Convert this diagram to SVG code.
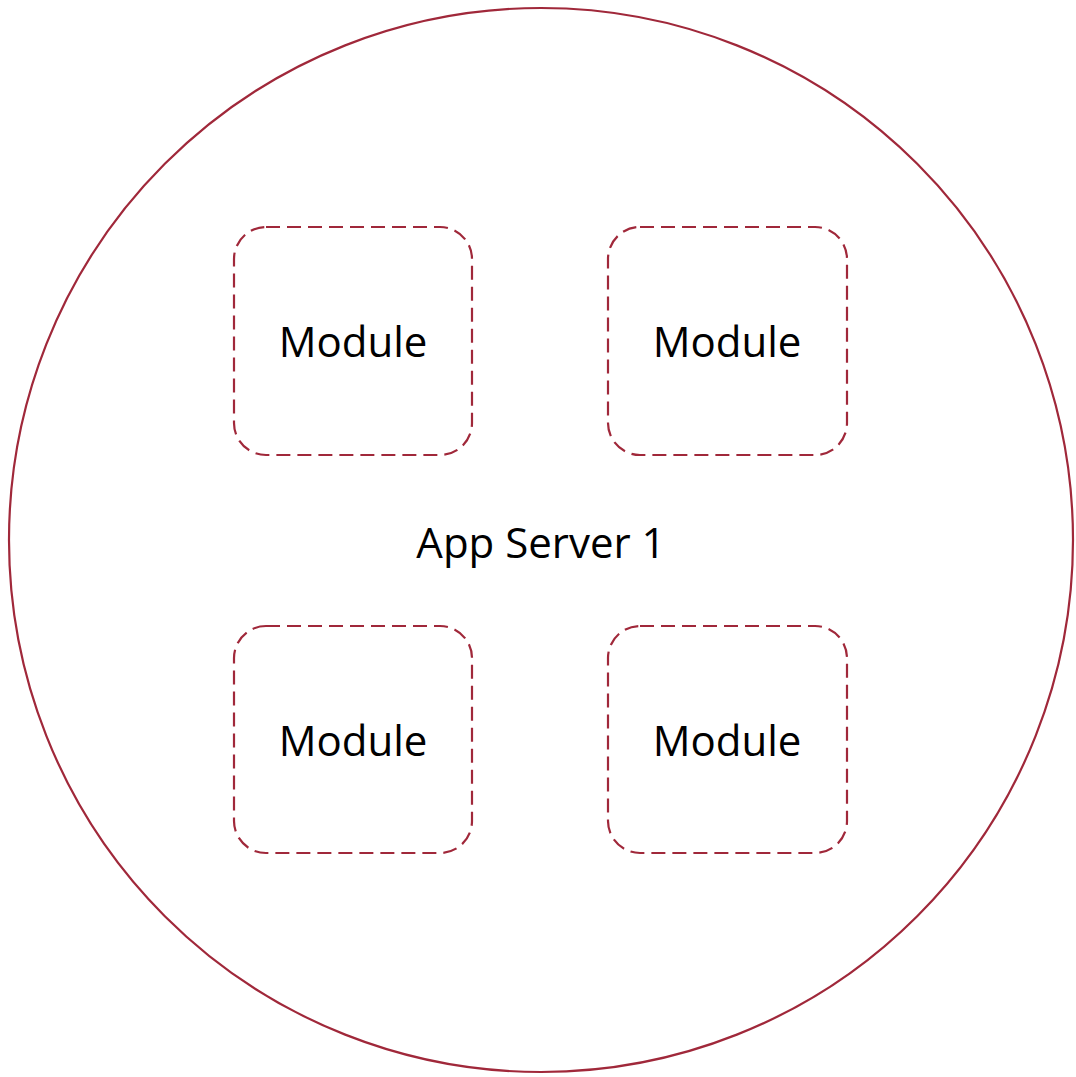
<svg xmlns="http://www.w3.org/2000/svg" width="1076" height="1077" viewBox="0 0 1076 1077">
<style>
.box{fill:none;stroke:#A0283A;stroke-width:2.2;stroke-dasharray:14 7}
.lbl{font-family:"Open Sans","Liberation Sans",sans-serif;font-size:42px;fill:#000;text-anchor:middle}
</style>
<rect width="1076" height="1077" fill="#fff"/>
<g id="server">
<ellipse cx="541" cy="540" rx="532" ry="532" fill="none" stroke="#A0283A" stroke-width="2.2"/>
<text class="lbl" x="541" y="558">App Server 1</text>
</g>
<g id="module1"><rect class="box" x="234" y="227" width="238" height="228" rx="32"/><text class="lbl" x="353" y="357">Module</text></g>
<g id="module2"><rect class="box" x="608" y="227" width="239" height="228" rx="32"/><text class="lbl" x="727" y="357">Module</text></g>
<g id="module3"><rect class="box" x="234" y="626" width="238" height="227" rx="32"/><text class="lbl" x="353" y="756">Module</text></g>
<g id="module4"><rect class="box" x="608" y="626" width="239" height="227" rx="32"/><text class="lbl" x="727" y="756">Module</text></g>
<g id="connectors"/>
</svg>
